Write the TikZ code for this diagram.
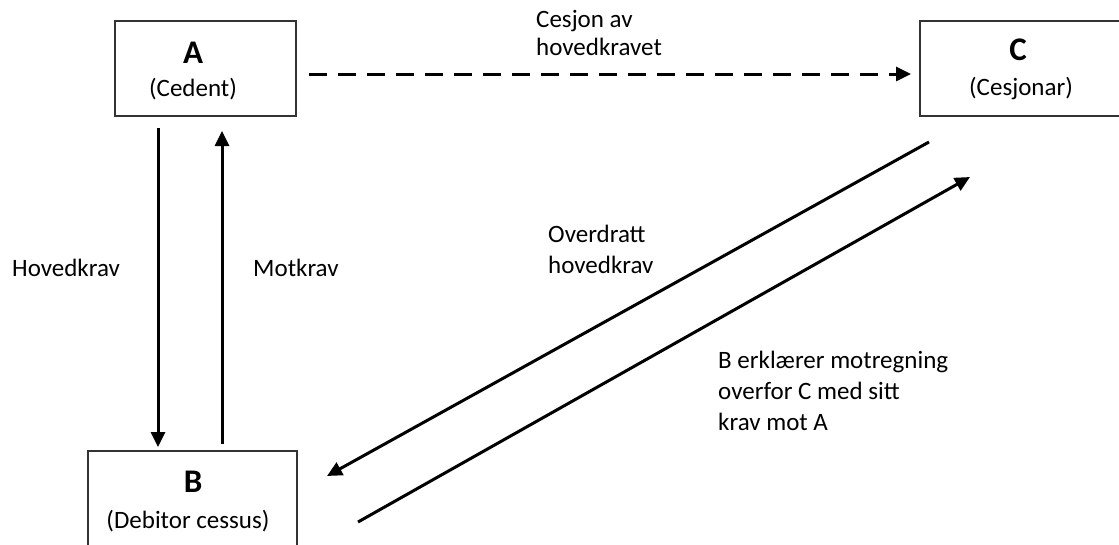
\documentclass[tikz,border=0pt]{standalone}
\usepackage{fontspec}
\setmainfont{Carlito}
\usetikzlibrary{arrows.meta}
\begin{document}
\begin{tikzpicture}[x=1pt,y=-1pt,
  boxst/.style={draw=black!80,line width=1.3pt},
  lbl/.style={inner sep=0pt,anchor=base west,align=left,font=\fontsize{25}{31}\selectfont},
  ttl/.style={inner sep=0pt,anchor=base,font=\fontsize{33}{38}\selectfont\bfseries},
  sub/.style={inner sep=0pt,anchor=base,font=\fontsize{25}{31}\selectfont},
  arr/.style={line width=3pt,-{Triangle[length=15pt,width=14pt]}},
  dasharr/.style={arr,dash pattern=on 18pt off 11pt}]
\clip (0,0) rectangle (1119,544);
\fill[white] (0,0) rectangle (1119,544);
% boxes
\draw[boxst] (115,21) rectangle (296,116);
\draw[boxst] (920,21) rectangle (1130,116);
\draw[boxst] (88,451) rectangle (297,560);
\node[ttl] (A) at (193,63) {A};
\node[sub] (Asub) at (193,96) {(Cedent)};
\node[ttl] (C) at (1018,60) {C};
\node[sub] (Csub) at (1021,95) {(Cesjonar)};
\node[ttl] (B) at (193,492) {B};
\node[sub] (Bsub) at (188,528) {(Debitor cessus)};
% labels
\node[lbl] (l1) at (536,55) {Cesjon av\\[-3pt]hovedkravet};
\node[lbl] (l2) at (12,276) {Hovedkrav};
\node[lbl] (l3) at (253,276) {Motkrav};
\node[lbl] (l4) at (548,273) {Overdratt\\hovedkrav};
\node[lbl] (l5) at (718,430) {B erklærer motregning\\overfor C med sitt\\krav mot A};
% connector ends
\coordinate (a1) at (158,128);
\coordinate (b1) at (158,447);
\coordinate (b2) at (222,444);
\coordinate (a2) at (222,131);
\coordinate (d1) at (309,74);
\coordinate (d2) at (911,74);
\coordinate (c1) at (929,142);
\coordinate (b3) at (327,476);
\coordinate (b4) at (358,522);
\coordinate (c2) at (970,177);
\draw[arr] (a1) -- (b1);
\draw[arr] (b2) -- (a2);
\draw[dasharr] (d1) -- (d2);
\draw[arr] (c1) -- (b3);
\draw[arr] (b4) -- (c2);
\end{tikzpicture}
\end{document}
